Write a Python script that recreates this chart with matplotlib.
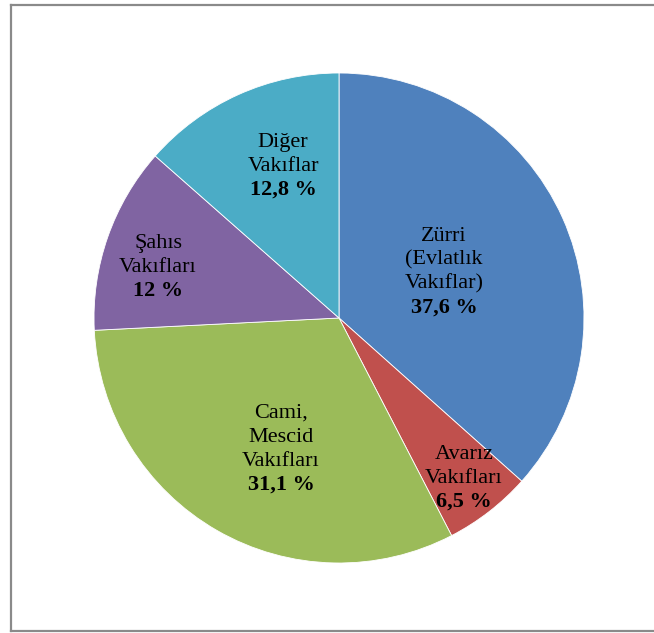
import matplotlib
matplotlib.use("Agg")
import matplotlib.pyplot as plt
from matplotlib.lines import Line2D

categories = ["Zürri\n(Evlatlık\nVakıflar)", "Avarız\nVakıfları", "Cami,\nMescid\nVakıfları", "Şahıs\nVakıfları", "Diğer\nVakıflar"]
# wedge sizes as drawn in the picture (the printed labels below are the chart's own texts)
values = [36.6, 5.8, 31.8, 12.3, 13.5]
pct_labels = ["37,6 %", "6,5 %", "31,1 %", "12 %", "12,8 %"]

colors = ["#4F81BD", "#C0504D", "#9BBB59", "#8064A2", "#4BACC6"]
# label x centre and first-line baseline, in figure pixels
label_px = [(444, 241), (464, 459), (281, 418), (158, 248), (283, 147)]

W, H = 654, 633
fig = plt.figure(figsize=(W / 100, H / 100), dpi=100)
cx, cy, R = 339, 318, 245
ax = fig.add_axes([(cx - R) / W, 1 - (cy + R) / H, 2 * R / W, 2 * R / H])
ax.pie(values, colors=colors, startangle=90, counterclock=False,
       wedgeprops=dict(edgecolor="white", linewidth=0.6), radius=1.0)
ax.set_xlim(-1, 1)
ax.set_ylim(-1, 1)
ax.axis("off")

fs = 16
step = 23.8  # pixels between baselines
for name, pct, (px, py) in zip(categories, pct_labels, label_px):
    lines = name.split("\n")
    x = (px - cx) / R
    for i, ln in enumerate(lines + [pct]):
        y = (cy - (py + i * step)) / R
        ax.text(x, y, ln, ha="center", va="baseline", fontsize=fs,
                family="Liberation Serif", color="black",
                fontweight="bold" if i == len(lines) else "normal")

gray = "#8a8a8a"
fig.add_artist(Line2D([10.5 / W, 1], [1 - 4.5 / H, 1 - 4.5 / H], color=gray, lw=1.6, transform=fig.transFigure))
fig.add_artist(Line2D([10.5 / W, 10.5 / W], [1 - 4.5 / H, 1 - 631 / H], color=gray, lw=1.6, transform=fig.transFigure))
fig.add_artist(Line2D([10.5 / W, 1], [1 - 631 / H, 1 - 631 / H], color=gray, lw=1.6, transform=fig.transFigure))

fig.savefig("out.png", dpi=100)
